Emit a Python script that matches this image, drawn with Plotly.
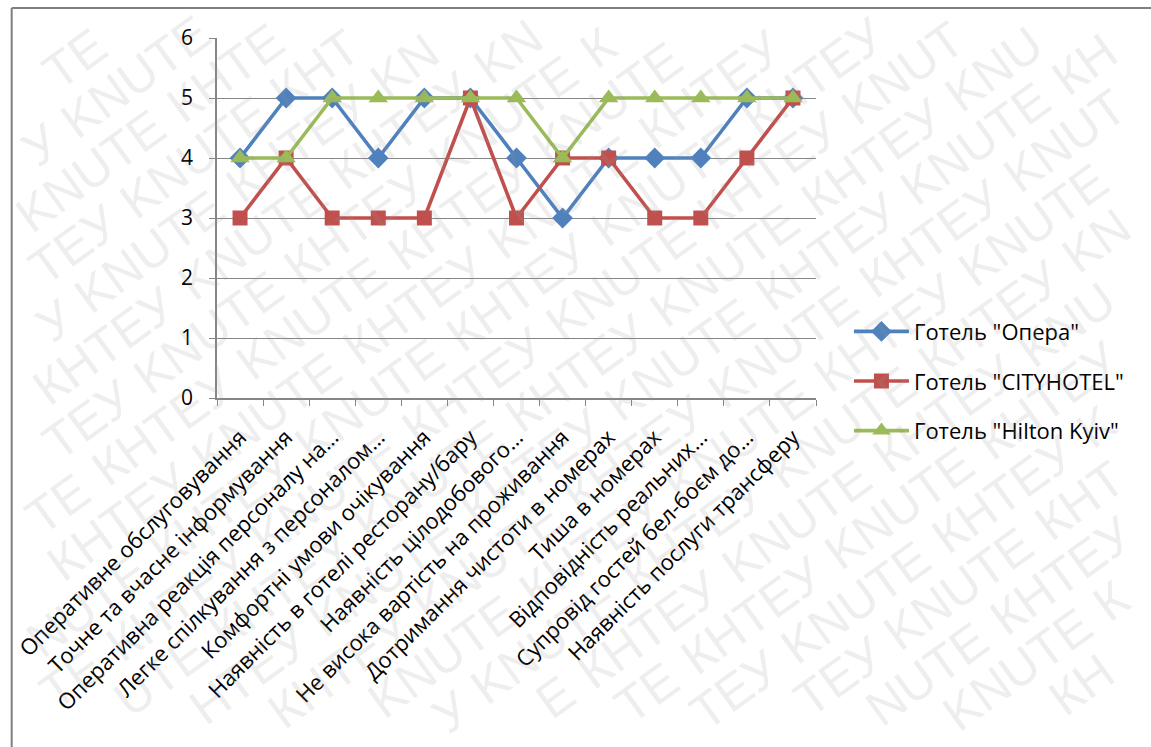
import math
import plotly.graph_objects as go

categories = [
    "Оперативне обслуговування",
    "Точне та вчасне інформування",
    "Оперативна реакція персоналу на…",
    "Легке спілкування з персоналом…",
    "Комфортні умови очікування",
    "Наявність в готелі ресторану/бару",
    "Наявність цілодобового…",
    "Не висока вартість на проживання",
    "Дотримання чистоти в номерах",
    "Тиша в номерах",
    "Відповідність реальних…",
    "Супровід гостей бел-боєм до…",
    "Наявність послуги трансферу",
]

opera = [4, 5, 5, 4, 5, 5, 4, 3, 4, 4, 4, 5, 5]
cityhotel = [3, 4, 3, 3, 3, 5, 3, 4, 4, 3, 3, 4, 5]
hilton = [4, 4, 5, 5, 5, 5, 5, 4, 5, 5, 5, 5, 5]

series = [
    ('Готель "Опера"', opera, "#4F81BD", "diamond", 16),
    ('Готель "CITYHOTEL"', cityhotel, "#C0504D", "square", 15),
    ('Готель "Hilton Kyiv"', hilton, "#9BBB59", "triangle-up", 17),
]

FONT = "Open Sans"
W, H = 1151, 747
ML, MR, MT, MB = 215, 335, 38, 349
PW, PH = W - ML - MR, H - MT - MB


def to_paper(px, py):
    return (px - ML) / PW, (H - MB - py) / PH


fig = go.Figure()
for i, (name, vals, color, symbol, msize) in enumerate(series):
    fig.add_trace(go.Scatter(
        x=categories, y=vals, name=name, mode="lines+markers",
        line=dict(color=color, width=3.6),
        marker=dict(symbol=symbol, size=msize, color=color),
        legendgroup=f"g{i}",
    ))

# ---- diagonal watermark laid out word by word; words at the page edge are
# shortened to the letters that stay fully inside the page ----
WM_WORDS = ["КНТЕУ", "KNUTE"]
WM_FONT = 50
CHAR_EM = {"К": 0.667, "Н": 0.722, "Т": 0.611, "Е": 0.667, "У": 0.65,
           "K": 0.667, "N": 0.722, "U": 0.722, "T": 0.611, "E": 0.667}
SPACE_EM = 0.278
angle = 36
ca, sa = math.cos(math.radians(angle)), math.sin(math.radians(angle))
row_gap = 50
half_h = 0.6 * WM_FONT
edge = 1
cx0, cy0 = W / 2, H / 2


def inside(x, y, w):
    hx = (w / 2) * ca + half_h * sa
    hy = (w / 2) * sa + half_h * ca
    return x - hx >= edge and x + hx <= W - edge and y - hy >= edge and y + hy <= H - edge


watermark = []
for k in range(-22, 23):
    ox = cx0 + k * row_gap * sa
    oy = cy0 + k * row_gap * ca
    phase = (k * 0.5) % 1.0
    for j in range(-8, 9):
        word = WM_WORDS[(j + k) % 2]
        widths = [CHAR_EM[c] * WM_FONT for c in word]
        word_w = sum(widths)
        step = (3.39 + SPACE_EM) * WM_FONT
        t_mid = (j + phase) * step
        t = t_mid - word_w / 2
        kept = []
        for c, w in zip(word, widths):
            tc = t + w / 2
            if inside(ox + tc * ca, oy - tc * sa, w):
                kept.append((c, t, t + w))
            t += w
        if not kept:
            continue
        text = "".join(c for c, _, _ in kept)
        ts = (kept[0][1] + kept[-1][2]) / 2
        span = kept[-1][2] - kept[0][1]
        px, py = ox + ts * ca, oy - ts * sa
        if not inside(px, py, span):
            continue
        x, y = to_paper(px, py)
        watermark.append(dict(
            xref="paper", yref="paper", x=x, y=y, xanchor="center", yanchor="middle",
            text=text, showarrow=False, textangle=-angle,
            font=dict(family="Liberation Sans", size=WM_FONT, color="rgba(150,150,150,0.16)"),
        ))

bx0, by0 = to_paper(9, 8)
bx1, by1 = to_paper(W + 20, H + 20)

fig.update_layout(
    width=W, height=H,
    margin=dict(l=ML, r=MR, t=MT, b=MB),
    paper_bgcolor="white", plot_bgcolor="white",
    font=dict(family=FONT, size=18, color="#000000"),
    showlegend=True,
    legend=dict(
        x=1.055, y=0.047, xanchor="left", yanchor="middle",
        font=dict(family=FONT, size=22, color="#000000"),
        tracegroupgap=18, itemwidth=55,
        bgcolor="rgba(0,0,0,0)",
    ),
    xaxis=dict(
        type="category", range=[-0.5, 12.5],
        tickangle=-45, tickson="boundaries",
        ticks="outside", ticklen=6, tickcolor="#868686",
        showline=True, linecolor="#868686", linewidth=1.5,
        showgrid=False,
        tickfont=dict(family=FONT, size=22),
        ticklabelstandoff=16,
    ),
    yaxis=dict(
        range=[0, 6], dtick=1,
        ticks="outside", ticklen=6, tickcolor="#868686",
        showline=True, linecolor="#868686", linewidth=1.5,
        showgrid=True, gridcolor="#868686", gridwidth=1,
        zeroline=False,
        tickfont=dict(family=FONT, size=21),
        ticklabelstandoff=12,
    ),
    shapes=[
        dict(type="line", xref="paper", yref="paper", x0=bx0, x1=bx1, y0=by0, y1=by0,
             line=dict(color="#7f7f7f", width=2)),
        dict(type="line", xref="paper", yref="paper", x0=bx0, x1=bx0, y0=by0, y1=by1,
             line=dict(color="#7f7f7f", width=2)),
    ],
    annotations=watermark,
)

fig.write_html("out.html")
